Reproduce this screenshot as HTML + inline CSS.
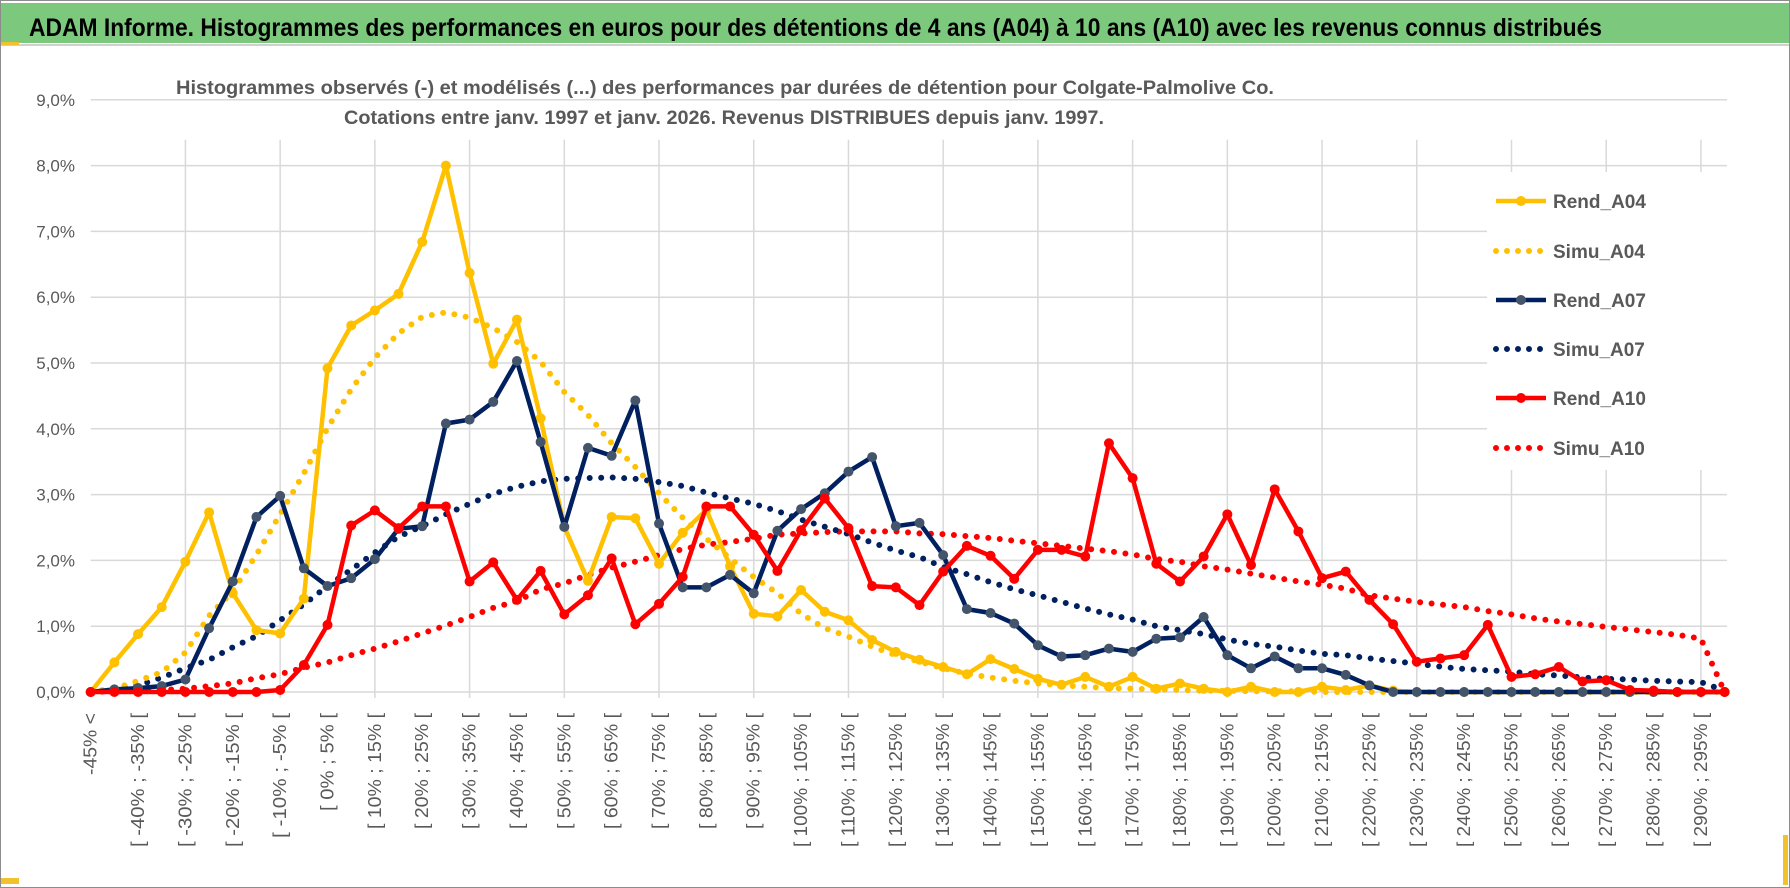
<!DOCTYPE html>
<html><head><meta charset="utf-8"><style>
html,body{margin:0;padding:0;background:#fff;}
svg{display:block;font-family:"Liberation Sans",sans-serif;}
</style></head><body>
<svg id="chart" width="1790" height="888" viewBox="0 0 1790 888" xmlns="http://www.w3.org/2000/svg">
<rect x="0.5" y="0.5" width="1789" height="887" fill="#fff" stroke="#8c8c8c"/>
<rect x="1" y="3" width="1788" height="40" fill="#7cc97e"/>
<line x1="1" y1="45" x2="1789" y2="45" stroke="#d0d0d0" stroke-width="2"/>
<rect x="1" y="42" width="18" height="3" fill="#f2c12e"/>
<rect x="1" y="878" width="18" height="6" fill="#f2c12e"/>
<rect x="1783" y="835" width="5" height="50" fill="#f2c12e"/>
<text x="29" y="36" font-size="25" font-weight="bold" fill="#000" textLength="1573" lengthAdjust="spacingAndGlyphs">ADAM Informe. Histogrammes des performances en euros pour des détentions de 4 ans (A04) à 10 ans (A10) avec les revenus connus distribués</text>
<text x="176" y="94" font-size="19" font-weight="bold" fill="#595959" textLength="1098" lengthAdjust="spacingAndGlyphs">Histogrammes observés (-) et modélisés (...) des performances par durées de détention pour Colgate-Palmolive Co.</text>
<text x="344" y="124" font-size="19" font-weight="bold" fill="#595959" textLength="760" lengthAdjust="spacingAndGlyphs">Cotations entre janv. 1997 et janv. 2026. Revenus DISTRIBUES depuis janv. 1997.</text>
<g id="grid"></g><g id="yaxis"></g><g id="xaxis"></g><g id="series"></g><g id="legend"></g>
</svg>
<script>
const yTicks=[0,1,2,3,4,5,6,7,8,9];
const rendA04=[0,0.45,0.88,1.29,1.98,2.73,1.5,0.94,0.89,1.42,4.92,5.57,5.8,6.05,6.84,8.0,6.37,4.99,5.66,4.16,2.51,1.69,2.66,2.64,1.95,2.42,2.77,1.91,1.19,1.15,1.55,1.22,1.09,0.79,0.61,0.49,0.38,0.27,0.5,0.35,0.2,0.11,0.23,0.08,0.23,0.05,0.13,0.05,0,0.08,0,0,0.08,0.03,0.1,0.02,0,0,0,0,0,0,0,0,0,0,0,0,0,0];
const simuA04=[0,0.05,0.17,0.3,0.6,1.16,1.53,2.09,2.7,3.32,4.01,4.6,5.08,5.45,5.7,5.77,5.69,5.53,5.32,5.02,4.56,4.21,3.78,3.42,3.02,2.65,2.33,2.03,1.75,1.5,1.19,0.97,0.84,0.69,0.56,0.46,0.36,0.28,0.22,0.17,0.13,0.1,0.08,0.06,0.05,0.04,0.03,0.02,0.02,0.01,0.01,0.01,0,0,0,0,0,0,0,0,0,0,0,0,0,0,0,0,0,0];
const rendA07=[0,0.04,0.06,0.09,0.19,0.97,1.68,2.66,2.98,1.88,1.61,1.73,2.02,2.48,2.52,4.08,4.14,4.41,5.03,3.8,2.51,3.71,3.59,4.43,2.56,1.59,1.59,1.78,1.5,2.45,2.78,3.02,3.35,3.57,2.52,2.57,2.08,1.26,1.2,1.04,0.71,0.54,0.56,0.66,0.61,0.81,0.83,1.14,0.56,0.36,0.54,0.36,0.36,0.26,0.1,0,0,0,0,0,0,0,0,0,0,0,0,0,0,0];
const simuA07=[0,0.05,0.1,0.22,0.36,0.49,0.68,0.85,1.09,1.33,1.61,1.86,2.12,2.36,2.52,2.7,2.86,3.01,3.12,3.2,3.24,3.25,3.26,3.24,3.19,3.13,3.03,2.94,2.86,2.75,2.62,2.51,2.4,2.27,2.15,2.05,1.9,1.79,1.67,1.56,1.47,1.37,1.27,1.18,1.1,1.0,0.94,0.88,0.8,0.73,0.69,0.63,0.58,0.56,0.51,0.47,0.43,0.385,0.35,0.33,0.31,0.27,0.25,0.22,0.2,0.19,0.17,0.16,0.15,0.02];
const rendA10=[0,0,0,0,0,0,0,0,0.03,0.41,1.02,2.53,2.76,2.49,2.82,2.82,1.68,1.97,1.4,1.84,1.18,1.47,2.03,1.03,1.34,1.75,2.82,2.82,2.39,1.84,2.46,2.94,2.49,1.61,1.59,1.32,1.83,2.22,2.07,1.72,2.16,2.16,2.06,3.78,3.25,1.95,1.68,2.06,2.7,1.93,3.08,2.44,1.73,1.83,1.4,1.03,0.46,0.51,0.56,1.02,0.23,0.27,0.38,0.16,0.18,0.03,0.02,0,0,0];
const simuA10=[0,0.01,0.02,0.03,0.05,0.09,0.13,0.21,0.27,0.37,0.45,0.56,0.66,0.77,0.89,1.01,1.14,1.28,1.38,1.56,1.65,1.78,1.89,1.98,2.08,2.17,2.24,2.28,2.33,2.39,2.41,2.43,2.44,2.44,2.44,2.41,2.4,2.37,2.34,2.3,2.26,2.22,2.18,2.14,2.09,2.02,1.98,1.91,1.86,1.8,1.74,1.68,1.63,1.57,1.47,1.42,1.37,1.33,1.29,1.23,1.18,1.12,1.07,1.03,0.99,0.95,0.91,0.87,0.81,0];
const categories=["-45% <"];
for(let i=1;i<70;i++){const a=-45+5*(i-1);categories.push("[ "+a+"% ; "+(a+5)+"% [");}

const NS="http://www.w3.org/2000/svg";
const X0=90.7,DX=23.68,Y0=692,DY=65.8,XR=1727;
function xs(i){return X0+i*DX;}
function ys(v){return Y0-v*DY;}
function mk(tag,attrs,parent){const e=document.createElementNS(NS,tag);for(const k in attrs)e.setAttribute(k,attrs[k]);parent.appendChild(e);return e;}
const grid=document.getElementById('grid'),yax=document.getElementById('yaxis'),xax=document.getElementById('xaxis'),ser=document.getElementById('series'),leg=document.getElementById('legend');
yTicks.forEach(t=>{
  const l=mk('line',{x1:X0,x2:XR,y1:ys(t),y2:ys(t),stroke:'#d9d9d9','stroke-width':1.5},grid);
  
  
  const tx=mk('text',{x:75,y:ys(t)+6,'text-anchor':'end','font-size':17,fill:'#595959'},yax);
  
  
  tx.textContent=t.toFixed(1).replace('.',',')+'%';
});
for(let i=4;i<categories.length;i+=4){
  const l=mk('line',{x1:xs(i),x2:xs(i),y1:ys(9)+40,y2:Y0+6,stroke:'#d9d9d9','stroke-width':1.5},grid);
  
  
}
categories.forEach((c,i)=>{
  if(i%2)return;
  const x=xs(i)+6,y=713;
  const len=c.length*8.9+(c.length<8?9:0);
  const t=mk('text',{x:x,y:y,'text-anchor':'end','font-size':18,fill:'#595959',textLength:len.toFixed(0),lengthAdjust:'spacingAndGlyphs',transform:`rotate(-90 ${x} ${y})`},xax);
  
  
  t.textContent=c;
});
function pts(d){return d.map((v,i)=>xs(i).toFixed(1)+','+ys(v).toFixed(1)).join(' ');}
function dotted(d,color,name){
  const p=mk('polyline',{points:pts(d),fill:'none',stroke:color,'stroke-width':6,'stroke-linecap':'round','stroke-dasharray':'0 11.5'},ser);
  
  
}
function solid(d,color,mcolor,name){
  const g=mk('g',{},ser);
  
  
  mk('polyline',{points:pts(d),fill:'none',stroke:color,'stroke-width':4.5,'stroke-linejoin':'round'},g);
  d.forEach((v,i)=>{
    const c=mk('circle',{cx:xs(i),cy:ys(v),r:5,fill:mcolor},g);
    
    
  });
}
dotted(simuA10,'#ff0000','simu-a10-line');
dotted(simuA07,'#002060','simu-a07-line');
dotted(simuA04,'#ffc000','simu-a04-line');
solid(rendA04,'#ffc000','#ffc000','rend-a04-line');
solid(rendA07,'#002060','#44546a','rend-a07-line');
solid(rendA10,'#ff0000','#ff0000','rend-a10-line');
const lb=mk('rect',{x:1487,y:172,width:240,height:298,fill:'#fff'},leg);


const legItems=[['Rend_A04','#ffc000','#ffc000',false],['Simu_A04','#ffc000',null,true],['Rend_A07','#002060','#44546a',false],['Simu_A07','#002060',null,true],['Rend_A10','#ff0000','#ff0000',false],['Simu_A10','#ff0000',null,true]];
const legY=[201,251,300,349,398,448];
legItems.forEach((it,k)=>{
  const g=mk('g',{},leg);
  
  
  const y=legY[k];
  if(it[3]){mk('line',{x1:1496,x2:1546,y1:y,y2:y,stroke:it[1],'stroke-width':6,'stroke-linecap':'round','stroke-dasharray':'0 11'},g);}
  else{mk('line',{x1:1496,x2:1546,y1:y,y2:y,stroke:it[1],'stroke-width':4.5},g);mk('circle',{cx:1521,cy:y,r:5,fill:it[2]},g);}
  const t=mk('text',{x:1553,y:y+7,'font-size':19,'font-weight':'bold',fill:'#595959'},g);
  t.textContent=it[0];
});
</script>
</body></html>
